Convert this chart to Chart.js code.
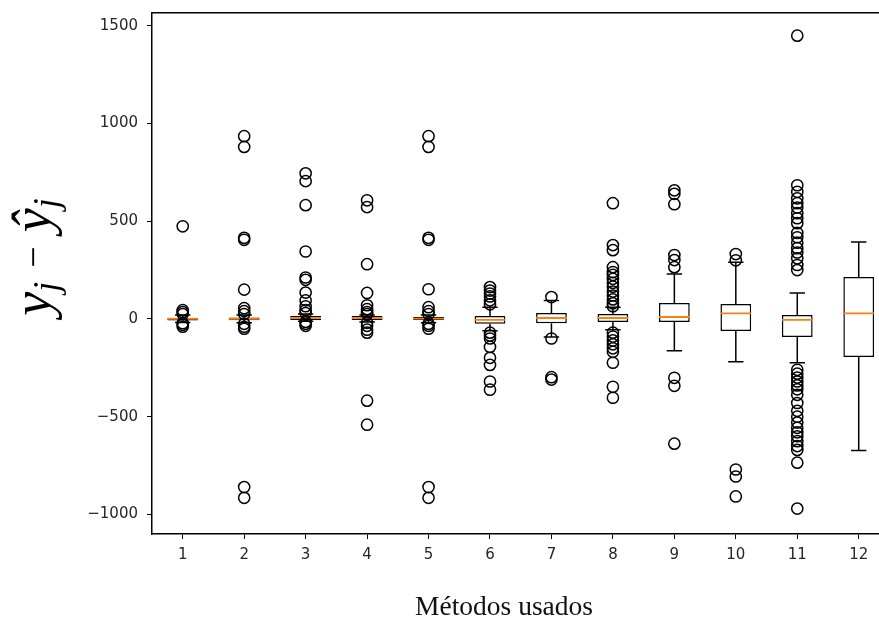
<!DOCTYPE html>
<html>
<head>
<meta charset="utf-8">
<script src="https://cdn.jsdelivr.net/npm/chart.js@4.4.1/dist/chart.umd.min.js"></script>
<style>
html, body { margin: 0; padding: 0; background: #fff; overflow: hidden; }
</style>
</head>
<body>
<canvas id="chart" width="879" height="619"></canvas>
<script>
// boxplot de los residuos por metodo
let methods = [1, 2, 3, 4, 5, 6, 7, 8, 9, 10, 11, 12];
let yTicks = [-1000, -500, 0, 500, 1000, 1500];

let q1 =          [-8, -6, -5, -5, -5, -25, -22, -15, -15, -61, -92, -194];
let medians =     [0, 0, 5, 5, 2, -5, 5, 5, 10, 29, -5, 29];
let q3 =          [6, 8, 15, 15, 10, 15, 30, 25, 82, 77, 20, 214];
let whiskerLow =  [-18, -20, -12, -15, -20, -60, -92, -55, -163, -219, -224, -673];
let whiskerHigh = [20, 20, 25, 20, 20, 60, 95, 60, 230, 290, 133, 393];

let outliers = [
  [474, 45, 35, 25, -22, -30, -40],
  [935, 880, 415, 405, 150, 55, 40, 25, -25, -40, -50, -860, -915],
  [745, 705, 582, 345, 212, 200, 135, 95, 65, 45, 30, -15, -25, -35],
  [607, 572, 280, 133, 70, 50, 35, 25, -20, -35, -55, -70, -418, -541],
  [935, 880, 415, 405, 152, 60, 40, 25, -25, -35, -50, -860, -915],
  [163, 145, 130, 115, 95, 75, -70, -85, -100, -143, -199, -235, -320, -362],
  [112, -100, -298, -310],
  [592, 378, 352, 265, 240, 225, 205, 185, 165, 140, 120, 100, 80, 65,
   -70, -90, -110, -130, -150, -168, -224, -347, -403],
  [658, 640, 587, 327, 301, 265, -301, -342, -638],
  [332, 300, -770, -806, -908],
  [1449, 684, 650, 617, 592, 570, 541, 515, 490, 440, 418, 390, 362, 340, 310, 276, 250,
   -260, -280, -300, -320, -340, -360, -388, -430, -470, -500, -530, -557, -580, -600,
   -625, -650, -670, -735, -970],
  []
];

let xTitle = 'Métodos usados';

const capHalf = 0.125;
const boxHalf = 0.25;

// cajas (barras flotantes q1..q3)
let boxData = methods.map((m, i) => ({ x: m, y: [q1[i], q3[i]] }));

// bigotes + topes, separados con huecos (y: null)
let whiskerData = [];
methods.forEach((m, i) => {
  whiskerData.push({ x: m, y: whiskerLow[i] }, { x: m, y: q1[i] }, { x: m, y: null });
  whiskerData.push({ x: m, y: q3[i] }, { x: m, y: whiskerHigh[i] }, { x: m, y: null });
  whiskerData.push({ x: m - capHalf, y: whiskerLow[i] }, { x: m + capHalf, y: whiskerLow[i] }, { x: m, y: null });
  whiskerData.push({ x: m - capHalf, y: whiskerHigh[i] }, { x: m + capHalf, y: whiskerHigh[i] }, { x: m, y: null });
});

let medianData = [];
methods.forEach((m, i) => {
  medianData.push({ x: m - boxHalf, y: medians[i] }, { x: m + boxHalf, y: medians[i] }, { x: m, y: null });
});

let outlierData = [];
methods.forEach((m, i) => {
  outliers[i].forEach(v => outlierData.push({ x: m, y: v }));
});

let tickFont = { family: 'DejaVu Sans', size: 15 };
let tickColor = '#262626';

// titulos: y_j - ŷ_j con subindices, y el del eje x
const titlesPlugin = {
  id: 'titles',
  afterDraw(chart) {
    const c = chart.ctx;
    c.save();
    c.fillStyle = '#111';
    c.font = '27.5px "Liberation Serif"';
    c.textAlign = 'center';
    c.textBaseline = 'alphabetic';
    c.fillText(xTitle, 504, 615);

    const parts = [
      { t: 'y', font: 'italic 54px "Liberation Serif"', dy: 0, gap: 0 },
      { t: 'j', font: 'italic 36px "Liberation Serif"', dy: 8, gap: 0 },
      { t: '\u2212', font: '38px "Liberation Serif"', dy: -4, gap: 14 },
      { t: '\u0177', font: 'italic 54px "Liberation Serif"', dy: 0, gap: 14 },
      { t: 'j', font: 'italic 36px "Liberation Serif"', dy: 8, gap: 0 }
    ];
    let total = 0;
    parts.forEach(p => { c.font = p.font; p.w = c.measureText(p.t).width; total += p.gap + p.w; });
    c.translate(50, 257);
    c.rotate(-Math.PI / 2);
    c.textAlign = 'left';
    c.fillStyle = '#000';
    let x = -total / 2;
    parts.forEach(p => {
      x += p.gap;
      c.font = p.font;
      c.fillText(p.t, x, p.dy);
      x += p.w;
    });
    c.restore();
  }
};

let ctx = document.getElementById('chart').getContext('2d');

let chart = new Chart(ctx, {
    type: 'bar',
    data: {
        datasets: [
            {
                type: 'scatter',
                data: outlierData,
                pointStyle: 'circle',
                pointRadius: 5.6,
                pointBorderWidth: 1.5,
                pointBorderColor: '#000',
                pointBackgroundColor: 'rgba(0,0,0,0)',
                order: 0
            },
            {
                type: 'line',
                data: medianData,
                borderColor: '#ff7f0e',
                borderWidth: 1.8,
                pointRadius: 0,
                spanGaps: false,
                order: 1
            },
            {
                type: 'bar',
                data: boxData,
                backgroundColor: '#fff',
                borderColor: '#000',
                borderWidth: 1.5,
                borderSkipped: false,
                categoryPercentage: 1,
                barPercentage: 0.5,
                order: 2
            },
            {
                type: 'line',
                data: whiskerData,
                borderColor: '#000',
                borderWidth: 1.5,
                pointRadius: 0,
                spanGaps: false,
                order: 3
            }
        ]
    },
    options: {
        animation: false,
        responsive: false,
        layout: { padding: 0, autoPadding: false },
        plugins: { legend: { display: false }, tooltip: { enabled: false } },
        scales: {
            x: {
                type: 'linear',
                position: 'bottom',
                min: 0.5,
                max: 12.33,
                offset: false,
                afterBuildTicks: s => { s.ticks = methods.map(v => ({ value: v })); },
                afterFit: s => { s.height = 85; s.paddingLeft = 0; s.paddingRight = 0; },
                grid: { display: true, drawOnChartArea: false, drawTicks: true, tickLength: 5, color: '#000', offset: false },
                border: { display: true, color: '#000', width: 1.5 },
                ticks: { font: tickFont, color: tickColor, padding: 7, maxRotation: 0, autoSkip: false }
            },
            xTop: {
                type: 'linear',
                position: 'top',
                min: 0.5,
                max: 12.33,
                afterFit: s => { s.height = 13; s.paddingLeft = 0; s.paddingRight = 0; },
                grid: { display: false },
                border: { display: true, color: '#000', width: 1.5 },
                ticks: { display: false }
            },
            y: {
                type: 'linear',
                min: -1100,
                max: 1565,
                afterBuildTicks: s => { s.ticks = yTicks.map(v => ({ value: v })); },
                afterFit: s => { s.width = 152; s.paddingTop = 0; s.paddingBottom = 0; },
                grid: { display: true, drawOnChartArea: false, drawTicks: true, tickLength: 5, color: '#000' },
                border: { display: true, color: '#000', width: 1.5 },
                ticks: {
                    font: tickFont,
                    color: tickColor,
                    padding: 9,
                    callback: v => v < 0 ? '\u2212' + Math.abs(v) : String(v)
                }
            }
        }
    },
    plugins: [titlesPlugin]
});
</script>
</body>
</html>
